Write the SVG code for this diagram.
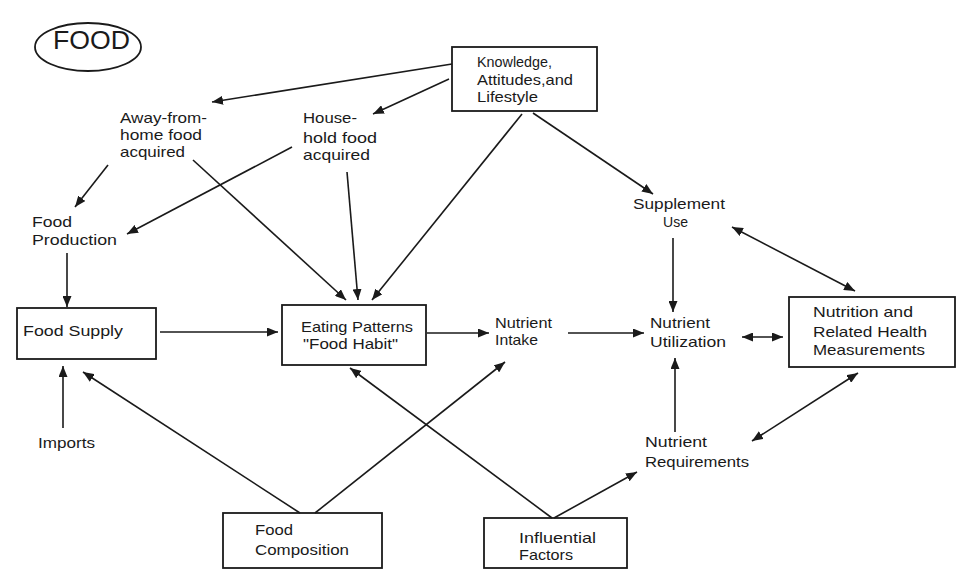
<svg xmlns="http://www.w3.org/2000/svg" width="962" height="570" viewBox="0 0 962 570">
<defs>
<marker id="ah" markerUnits="userSpaceOnUse" markerWidth="11" markerHeight="9" refX="11" refY="4.5" orient="auto-start-reverse" viewBox="0 0 11 9">
<path d="M0,0 L11,4.5 L0,9 z" fill="#1a1a1a"/>
</marker>
</defs>
<style>
.t{font-family:"Liberation Sans",Arial,sans-serif;font-size:15px;fill:#1a1a1a}
.b{fill:none;stroke:#1a1a1a;stroke-width:1.8}
.c{fill:none;stroke:#1a1a1a;stroke-width:1.6;marker-end:url(#ah)}
.d{marker-start:url(#ah)}
</style>
<rect width="962" height="570" fill="#ffffff"/>
<g id="food-title">
<ellipse class="b" cx="88" cy="47" rx="53" ry="24"/>
<text class="t" x="53" y="49" style="font-size:25px" textLength="77" lengthAdjust="spacingAndGlyphs">FOOD</text>
</g>
<g id="knowledge">
<rect class="b" x="452" y="47" width="145" height="64"/>
<text class="t" x="477" y="67" textLength="75" lengthAdjust="spacingAndGlyphs">Knowledge,</text>
<text class="t" x="477" y="85" textLength="96" lengthAdjust="spacingAndGlyphs">Attitudes,and</text>
<text class="t" x="477" y="102" textLength="61" lengthAdjust="spacingAndGlyphs">Lifestyle</text>
</g>
<g id="away-from-home">
<text class="t" x="120" y="123" textLength="87" lengthAdjust="spacingAndGlyphs">Away-from-</text>
<text class="t" x="120" y="140" textLength="82" lengthAdjust="spacingAndGlyphs">home food</text>
<text class="t" x="120" y="157" textLength="65" lengthAdjust="spacingAndGlyphs">acquired</text>
</g>
<g id="household">
<text class="t" x="303" y="123" textLength="54" lengthAdjust="spacingAndGlyphs">House-</text>
<text class="t" x="303" y="143" textLength="74" lengthAdjust="spacingAndGlyphs">hold food</text>
<text class="t" x="303" y="160" textLength="67" lengthAdjust="spacingAndGlyphs">acquired</text>
</g>
<g id="food-production">
<text class="t" x="32" y="227" textLength="40" lengthAdjust="spacingAndGlyphs">Food</text>
<text class="t" x="32" y="245" textLength="85" lengthAdjust="spacingAndGlyphs">Production</text>
</g>
<g id="food-supply">
<rect class="b" x="17" y="308" width="139" height="51"/>
<text class="t" x="23" y="336" textLength="100" lengthAdjust="spacingAndGlyphs">Food Supply</text>
</g>
<g id="imports">
<text class="t" x="38" y="448" textLength="57" lengthAdjust="spacingAndGlyphs">Imports</text>
</g>
<g id="eating-patterns">
<rect class="b" x="282" y="305" width="144" height="60"/>
<text class="t" x="301" y="332" textLength="112" lengthAdjust="spacingAndGlyphs">Eating Patterns</text>
<text class="t" x="303" y="349" textLength="95" lengthAdjust="spacingAndGlyphs">"Food Habit"</text>
</g>
<g id="nutrient-intake">
<text class="t" x="495" y="328" textLength="57" lengthAdjust="spacingAndGlyphs">Nutrient</text>
<text class="t" x="495" y="345" textLength="43" lengthAdjust="spacingAndGlyphs">Intake</text>
</g>
<g id="supplement-use">
<text class="t" x="633" y="209" textLength="92" lengthAdjust="spacingAndGlyphs">Supplement</text>
<text class="t" x="663" y="227" textLength="25" lengthAdjust="spacingAndGlyphs">Use</text>
</g>
<g id="nutrient-utilization">
<text class="t" x="650" y="328" textLength="60" lengthAdjust="spacingAndGlyphs">Nutrient</text>
<text class="t" x="650" y="347" textLength="76" lengthAdjust="spacingAndGlyphs">Utilization</text>
</g>
<g id="nutrition-health">
<rect class="b" x="789" y="297" width="166" height="70"/>
<text class="t" x="813" y="317" textLength="100" lengthAdjust="spacingAndGlyphs">Nutrition and</text>
<text class="t" x="813" y="337" textLength="114" lengthAdjust="spacingAndGlyphs">Related Health</text>
<text class="t" x="813" y="355" textLength="112" lengthAdjust="spacingAndGlyphs">Measurements</text>
</g>
<g id="nutrient-requirements">
<text class="t" x="645" y="447" textLength="62" lengthAdjust="spacingAndGlyphs">Nutrient</text>
<text class="t" x="645" y="467" textLength="104" lengthAdjust="spacingAndGlyphs">Requirements</text>
</g>
<g id="food-composition">
<rect class="b" x="223" y="513" width="159" height="55"/>
<text class="t" x="255" y="535" textLength="38" lengthAdjust="spacingAndGlyphs">Food</text>
<text class="t" x="255" y="555" textLength="94" lengthAdjust="spacingAndGlyphs">Composition</text>
</g>
<g id="influential-factors">
<rect class="b" x="484" y="518" width="143" height="50"/>
<text class="t" x="519" y="543" textLength="77" lengthAdjust="spacingAndGlyphs">Influential</text>
<text class="t" x="519" y="560" textLength="54" lengthAdjust="spacingAndGlyphs">Factors</text>
</g>
<g id="connectors">
<path class="c" d="M452,64 L212,102"/>
<path class="c" d="M449,79 L373,114"/>
<path class="c" d="M522,114 L372,300"/>
<path class="c" d="M533,113 L653,194"/>
<path class="c" d="M193,160 L346,300"/>
<path class="c" d="M347,172 L358,300"/>
<path class="c" d="M108,165 L75,207"/>
<path class="c" d="M292,147 L127,234"/>
<path class="c" d="M67,253 L67,307"/>
<path class="c" d="M63,428 L63,366"/>
<path class="c" d="M160,332 L278,332"/>
<path class="c" d="M427,333 L489,333"/>
<path class="c" d="M568,333 L644,333"/>
<path class="c" d="M673,238 L673,312"/>
<path class="c" d="M675,432 L675,358"/>
<path class="c d" d="M742,337 L783,337"/>
<path class="c d" d="M732,227 L855,291"/>
<path class="c d" d="M752,441 L858,373"/>
<path class="c" d="M300,513 L83,372"/>
<path class="c" d="M315,513 L505,362"/>
<path class="c" d="M552,518 L350,368"/>
<path class="c" d="M554,518 L637,472"/>
</g>
</svg>
